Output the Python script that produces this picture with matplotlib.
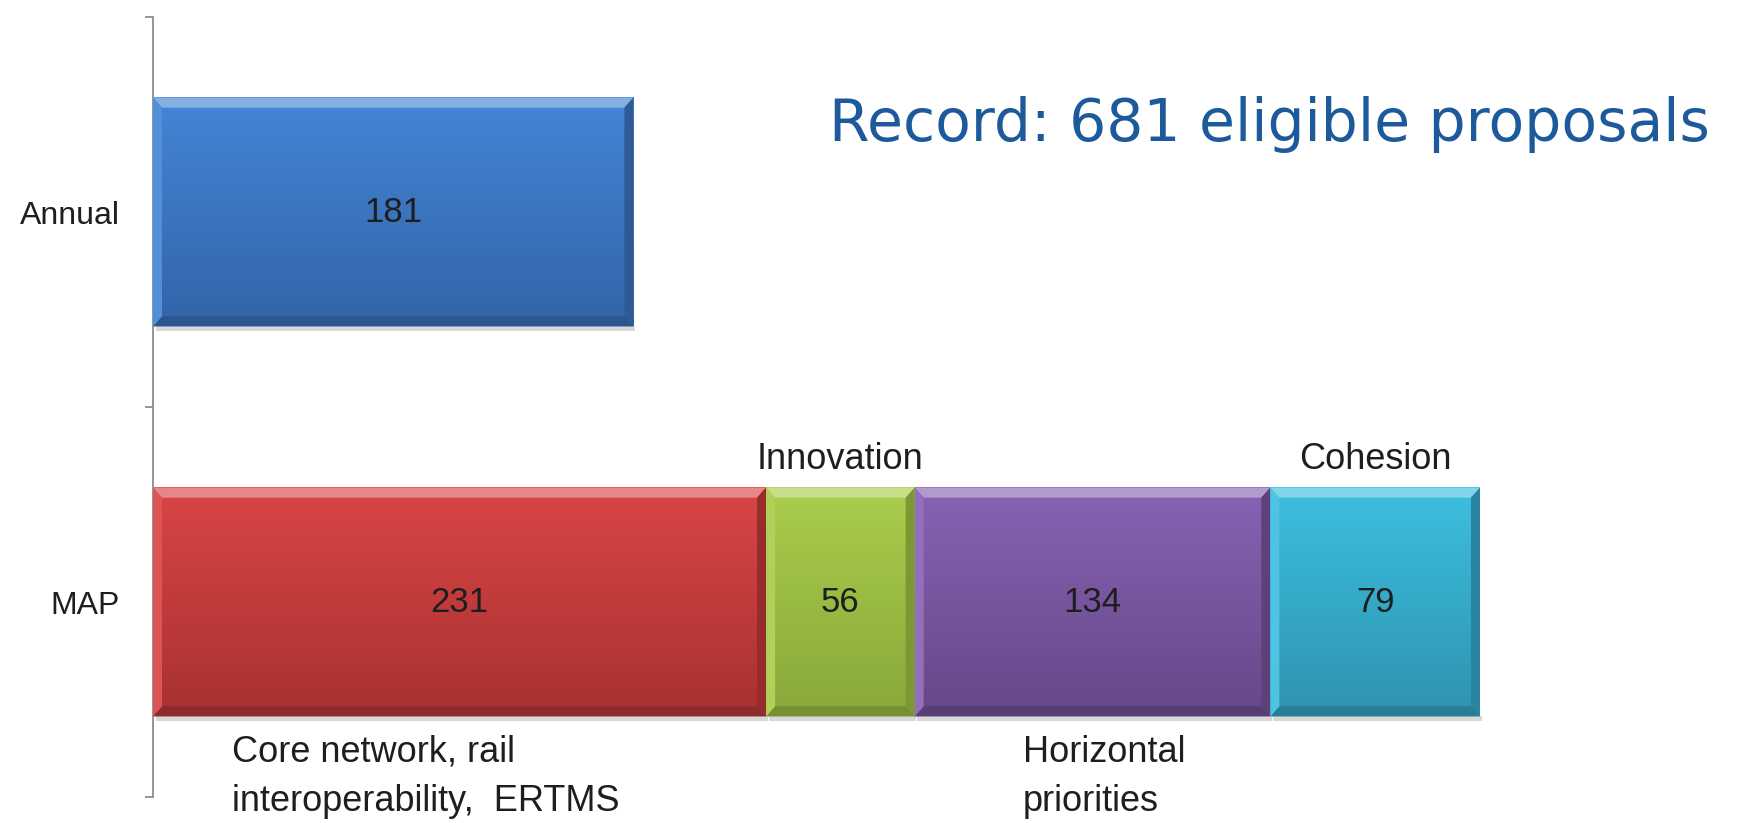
import numpy as np
import matplotlib
matplotlib.use("Agg")
import matplotlib.pyplot as plt
from matplotlib.colors import to_rgb
from matplotlib.patches import Polygon

# eligible proposals per call
categories = ["Annual", "MAP"]
annual_values = [181]
map_segments = ["Core network, rail\ninteroperability,  ERTMS", "Innovation", "Horizontal\npriorities", "Cohesion"]
map_values = [231, 56, 134, 79]
title_text = "Record: 681 eligible proposals"

# top / bottom shades of each bar
annual_colors = [("#4385d6", "#3464a8")]
map_colors = [("#da4545", "#a83131"), ("#a9cd4b", "#88a93a"),
              ("#8763b3", "#664889"), ("#3dbfe0", "#2e93b0")]

plt.rcParams['font.family'] = ['Liberation Sans', 'DejaVu Sans']

W, H = 1752, 823
fig = plt.figure(figsize=(W / 100, H / 100), dpi=100)
ax = fig.add_axes([153 / W, 26 / H, 1 - 153 / W, 780 / H])
xmax = (W - 153) / 2.654
bar_h = 0.587


def shade(c, f):
    r = np.array(to_rgb(c))
    if f > 0:
        return tuple(r + (1 - r) * f)
    return tuple(r * (1 + f))


def bevel_bar(patch, top, bottom):
    x0, y0 = patch.get_x(), patch.get_y()
    w, h = patch.get_width(), patch.get_height()
    x1, y1 = x0 + w, y0 + h
    t = np.linspace(0, 1, 64)[:, None]
    grad = (1 - t) * np.array(to_rgb(top)) + t * np.array(to_rgb(bottom))
    ax.imshow(grad[:, None, :].repeat(2, axis=1), extent=(x0, x1, y1, y0),
              origin="upper", aspect="auto", interpolation="bilinear", zorder=2)
    bx, by = 3.4, 0.026
    # soft shadow under the bar
    ax.add_patch(Polygon([(x0 + 1, y1), (x1 + 0.6, y1), (x1 + 0.6, y1 + 0.012), (x0 + 1, y1 + 0.012)],
                         closed=True, color="#d8d8d8", lw=0, zorder=1))
    faces = [
        ([(x0, y0), (x1, y0), (x1 - bx, y0 + by), (x0 + bx, y0 + by)], shade(top, 0.35)),
        ([(x1, y0), (x1, y1), (x1 - bx, y1 - by), (x1 - bx, y0 + by)], shade(bottom, -0.1)),
        ([(x0, y1), (x1, y1), (x1 - bx, y1 - by), (x0 + bx, y1 - by)], shade(bottom, -0.15)),
        ([(x0, y0), (x0, y1), (x0 + bx, y1 - by), (x0 + bx, y0 + by)], shade(top, 0.08)),
    ]
    for pts, col in faces:
        ax.add_patch(Polygon(pts, closed=True, facecolor=col, edgecolor="none", zorder=3))


# Annual bar
bars = ax.barh(0, annual_values[0], height=bar_h, color="none", zorder=2)
for p, (c1, c2) in zip(bars, annual_colors):
    bevel_bar(p, c1, c2)
    ax.text(p.get_x() + p.get_width() / 2, 0, str(annual_values[0]), ha="center", va="center",
            fontsize=25, color="#1e1e1e", zorder=5)

# MAP stacked segments
lefts = np.concatenate([[0], np.cumsum(map_values)[:-1]])
seg_bars = ax.barh([1] * len(map_values), map_values, left=lefts, height=bar_h, color="none", zorder=2)
for p, val, (c1, c2) in zip(seg_bars, map_values, map_colors):
    bevel_bar(p, c1, c2)
    ax.text(p.get_x() + p.get_width() / 2, 1, str(val), ha="center", va="center",
            fontsize=25, color="#1e1e1e", zorder=5)

# segment names: above for the narrow ones, below for the wide ones
top_y = 1 - bar_h / 2
bot_y = 1 + bar_h / 2
for i, (p, name) in enumerate(zip(seg_bars, map_segments)):
    if i in (1, 3):
        ax.annotate(name, (p.get_x() + p.get_width() / 2, top_y), xytext=(0, 13),
                    textcoords="offset points", ha="center", va="baseline",
                    fontsize=26, color="#1e1e1e", annotation_clip=False)
    else:
        dx = 57 if i == 0 else 78
        ax.annotate(name, (p.get_x(), bot_y), xytext=(dx, -13),
                    textcoords="offset points", ha="left", va="top",
                    fontsize=26, color="#1e1e1e", linespacing=1.55, annotation_clip=False)

ax.set_xlim(0, xmax)
ax.set_ylim(1.5, -0.5)
ax.set_yticks([0, 1], categories, fontsize=23, color="#1e1e1e")
ax.tick_params(axis="y", which="major", length=0, pad=24)
ax.set_yticks([-0.5, 0.5, 1.5], minor=True)
ax.tick_params(axis="y", which="minor", length=6, width=1.3, color="#8c8c8c")
ax.set_xticks([])
for s in ("top", "right", "bottom"):
    ax.spines[s].set_visible(False)
ax.spines["left"].set_color("#8c8c8c")
ax.spines["left"].set_linewidth(1.3)

fig.text(829 / W, (H - 141) / H, title_text, fontsize=42, color="#1d5a9b",
         family="DejaVu Sans", ha="left", va="baseline")

fig.savefig("out.png", dpi=100)
